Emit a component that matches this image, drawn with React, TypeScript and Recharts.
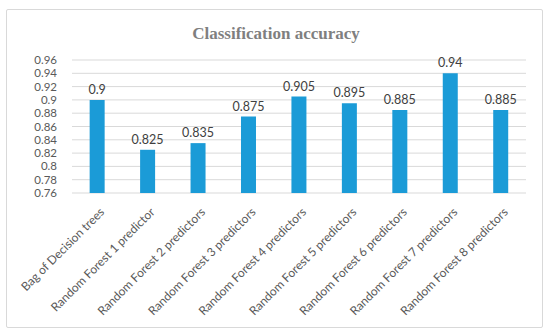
import { BarChart, Bar, XAxis, YAxis, CartesianGrid, LabelList } from "recharts";

const models = [
  "Bag of Decision trees",
  "Random Forest 1 predictor",
  "Random Forest 2 predictors",
  "Random Forest 3 predictors",
  "Random Forest 4 predictors",
  "Random Forest 5 predictors",
  "Random Forest 6 predictors",
  "Random Forest 7 predictors",
  "Random Forest 8 predictors",
];
const accuracy = [0.9, 0.825, 0.835, 0.875, 0.905, 0.895, 0.885, 0.94, 0.885];
const yTicks = [0.76, 0.78, 0.8, 0.82, 0.84, 0.86, 0.88, 0.9, 0.92, 0.94, 0.96];

const data = models.map((name, i) => ({ name, value: accuracy[i] }));

const fmt = (v: number) => String(Number(v.toFixed(3)));
const FONT = "Lato, 'Open Sans', sans-serif";

// rotated category labels, end of text sits under the bar
const AngledTick = (props: any) => {
  const { x, y, payload } = props;
  return (
    <g transform={`translate(${x + 5},${y + 9})`}>
      <text
        transform="rotate(-45)"
        textAnchor="end"
        fontSize={12}
        fill="#595959"
        fontFamily={FONT}
        dy={4}
      >
        {payload.value}
      </text>
    </g>
  );
};

export default function App() {
  return (
    <div style={{ position: "absolute", left: 0, top: 0, width: 550, height: 332, background: "#fff" }}>
      <div
        style={{
          position: "absolute",
          left: 6,
          top: 9,
          width: 535,
          height: 317,
          border: "1px solid #d9d9d9",
          borderRadius: 2,
        }}
      />
      <div
        style={{
          position: "absolute",
          left: 0,
          top: 24,
          width: 552,
          textAlign: "center",
          fontFamily: "'Liberation Serif', serif",
          fontWeight: "bold",
          fontSize: 17,
          color: "#7f7f7f",
        }}
      >
        Classification accuracy
      </div>
      <div style={{ position: "absolute", left: 0, top: 0 }}>
        <BarChart
          width={550}
          height={332}
          data={data}
          margin={{ top: 60, right: 24, left: 0, bottom: 9 }}
          barCategoryGap="35%"
        >
          <CartesianGrid vertical={false} stroke="#d9d9d9" />
          <XAxis
            dataKey="name"
            interval={0}
            height={130}
            axisLine={false}
            tickLine={false}
            tick={<AngledTick />}
          />
          <YAxis
            width={72}
            domain={[0.76, 0.96]}
            ticks={yTicks}
            interval={0}
            tickFormatter={fmt}
            axisLine={false}
            tickLine={false}
            tickMargin={9}
            tick={{ fill: "#595959", fontSize: 11.5, fontFamily: FONT }}
          />
          <Bar dataKey="value" fill="#1b9bd7" isAnimationActive={false}>
            <LabelList
              dataKey="value"
              position="top"
              offset={6}
              formatter={(v: any) => fmt(Number(v))}
              style={{ fill: "#404040", fontSize: 12.5, fontFamily: FONT }}
            />
          </Bar>
        </BarChart>
      </div>
    </div>
  );
}
